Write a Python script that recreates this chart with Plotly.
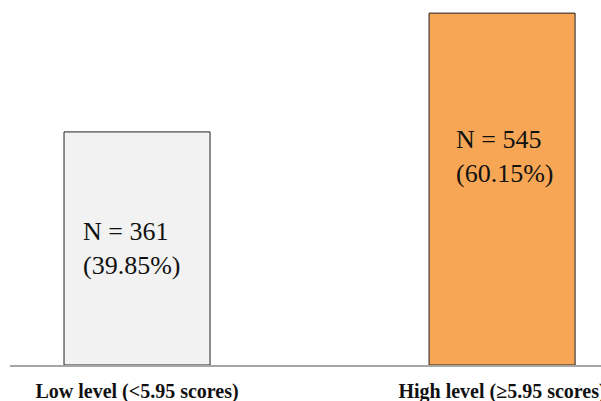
import plotly.graph_objects as go

categories = ["Low level (<5.95 scores)", "High level (≥5.95 scores)"]
counts = [361, 545]
percents = [39.85, 60.15]
colors = ["#f2f2f2", "#f7a655"]

fig = go.Figure()
fig.add_trace(go.Bar(
    x=categories, y=counts, width=0.4,
    marker=dict(color=colors, line=dict(color="#222222", width=1)),
    hoverinfo="skip",
))

# annotation placement (layout only)
label_frac = [0.5, 0.592]
label_xshift = [-56, -48]
for i, (c, n, p) in enumerate(zip(categories, counts, percents)):
    fig.add_annotation(
        x=c, y=n * label_frac[i], xref="x", yref="y",
        text=f"N = {n}<br>({p:.2f}%)",
        showarrow=False, xanchor="left", yanchor="middle", align="left",
        xshift=label_xshift[i],
        font=dict(family="Liberation Serif", size=26, color="#111111"),
    )

fig.update_layout(
    width=601, height=401,
    margin=dict(l=10, r=0, t=0, b=36, autoexpand=False),
    plot_bgcolor="white", paper_bgcolor="white",
    showlegend=False,
    bargap=0.6,
)
fig.update_xaxes(
    range=[-0.348, 1.271],
    showline=True, linecolor="#a6a6a6", linewidth=1.5,
    showgrid=False, zeroline=False,
    ticks="", ticklabelstandoff=7, automargin=False,
    tickfont=dict(family="Liberation Serif", size=20, color="#111111", weight="bold"),
)
fig.update_yaxes(
    range=[0, 565.3], visible=False, showgrid=False, zeroline=False,
)

fig.write_html("out.html", config={"displayModeBar": False},
               post_script="document.body.style.margin='0';")
